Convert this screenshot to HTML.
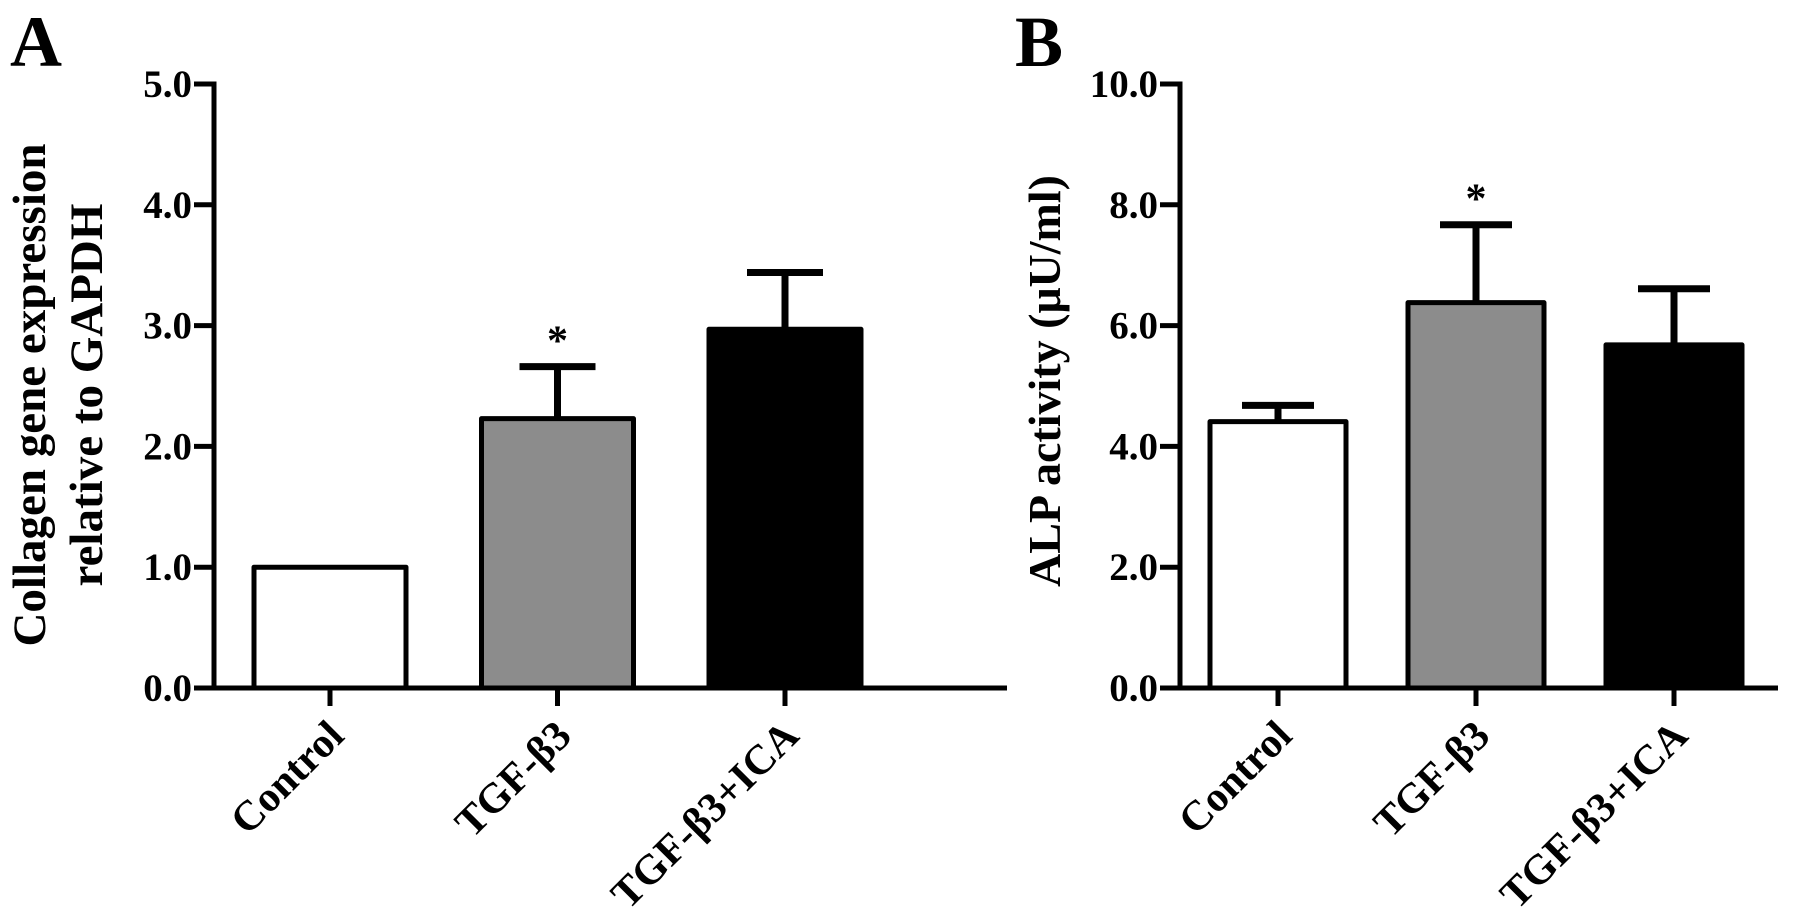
<!DOCTYPE html>
<html><head><meta charset="utf-8"><style>
html,body{margin:0;padding:0;background:#fff;}
svg{display:block;}
text{font-family:"Liberation Serif",serif;font-weight:bold;fill:#000;}
</style></head><body>
<svg id="chart" width="1795" height="915" viewBox="0 0 1795 915" xmlns="http://www.w3.org/2000/svg"></svg>
<script>
const categories = ["Control", "TGF-β3", "TGF-β3+ICA"];
const collagenValues = [1.0, 2.23, 2.97];
const collagenErrors = [0, 0.43, 0.47];
const collagenTicks = ["0.0", "1.0", "2.0", "3.0", "4.0", "5.0"];
const alpValues = [4.41, 6.38, 5.68];
const alpErrors = [0.27, 1.29, 0.93];
const alpTicks = ["0.0", "2.0", "4.0", "6.0", "8.0", "10.0"];
const significant = [false, true, false];
const fills = ["#ffffff", "#8c8c8c", "#000000"];

const svg = document.getElementById('chart');
const NS = "http://www.w3.org/2000/svg";
function mk(tag, attrs, name, parent) {
  const e = document.createElementNS(NS, tag);
  for (const k in attrs) e.setAttribute(k, attrs[k]);
  
  
  (parent || svg).appendChild(e);
  return e;
}

function panel(cfg) {
  const g = mk('g', {}, cfg.name);
  const y = v => cfg.y0 - (v / cfg.max) * (cfg.y0 - cfg.yTop);
  const x = i => cfg.x1 + i * cfg.step;
  mk('text', {x: cfg.letterX, y: 66, 'font-size': 72}, 'panel-letter', g).textContent = cfg.letter;
  cfg.values.forEach((v, i) => {
    const cx = x(i), top = y(v), bw = cfg.barW;
    mk('rect', {x: cx - bw/2, y: top, width: bw, height: cfg.y0 - top, fill: fills[i], stroke: '#000', 'stroke-width': 5, 'stroke-linejoin': 'round'}, 'bar-' + (i+1), g);
    if (cfg.errors[i] > 0) {
      const et = y(v + cfg.errors[i]);
      mk('line', {x1: cx, x2: cx, y1: top, y2: et, stroke: '#000', 'stroke-width': 7}, 'error-bar-stem', g);
      mk('line', {x1: cx - cfg.cap, x2: cx + cfg.cap, y1: et, y2: et, stroke: '#000', 'stroke-width': 7}, 'error-bar-cap', g);
      if (significant[i]) {
        const t = mk('text', {x: cx, y: et - 12, 'font-size': 42, 'text-anchor': 'middle'}, 'significance-asterisk', g);
        t.textContent = '*';
      }
    }
  });
  mk('line', {x1: cfg.ax, x2: cfg.ax, y1: cfg.yTop - 2.5, y2: cfg.y0 + 2.5, stroke: '#000', 'stroke-width': 5}, 'y-axis-line', g);
  mk('line', {x1: cfg.ax - 20, x2: cfg.axEnd, y1: cfg.y0, y2: cfg.y0, stroke: '#000', 'stroke-width': 5}, 'x-axis-line', g);
  cfg.ticks.forEach((lab) => {
    const v = parseFloat(lab), ty = y(v);
    mk('line', {x1: cfg.ax - 20, x2: cfg.ax, y1: ty, y2: ty, stroke: '#000', 'stroke-width': 5}, 'y-tick', g);
    const t = mk('text', {x: cfg.ax - 22, y: ty + 13, 'font-size': 39, 'text-anchor': 'end'}, 'y-tick-label', g);
    t.textContent = lab;
  });
  categories.forEach((c, i) => {
    const cx = x(i);
    mk('line', {x1: cx, x2: cx, y1: cfg.y0, y2: cfg.y0 + 18, stroke: '#000', 'stroke-width': 5}, 'x-tick', g);
    const lx = cx + 16, ly = cfg.y0 + 50;
    const t = mk('text', {x: lx, y: ly, 'font-size': 42, 'text-anchor': 'end', transform: `rotate(-45 ${lx} ${ly})`}, 'x-tick-label', g);
    t.textContent = c;
  });
  cfg.title.forEach((line, k) => {
    const tx = cfg.titleX[k], ty = cfg.titleY;
    const t = mk('text', {x: tx, y: ty, 'font-size': cfg.titleSize, 'text-anchor': 'middle', transform: `rotate(-90 ${tx} ${ty})`}, 'y-axis-title', g);
    t.textContent = line;
  });
}

panel({name: 'panel-a-collagen', letter: 'A', letterX: 10, values: collagenValues, errors: collagenErrors, ticks: collagenTicks, max: 5,
  y0: 688, yTop: 84, ax: 214, axEnd: 1007, x1: 330, step: 227.5, barW: 152, cap: 38, titleSize: 47,
  title: ['Collagen gene expression', 'relative to GAPDH'], titleX: [45, 102], titleY: 395});
panel({name: 'panel-b-alp', letter: 'B', letterX: 1015, values: alpValues, errors: alpErrors, ticks: alpTicks, max: 10,
  y0: 688, yTop: 84, ax: 1180, axEnd: 1778, x1: 1278, step: 198, barW: 136, cap: 36, titleSize: 46,
  title: ['ALP activity (μU/ml)'], titleX: [1060], titleY: 381});
</script>
</body></html>
